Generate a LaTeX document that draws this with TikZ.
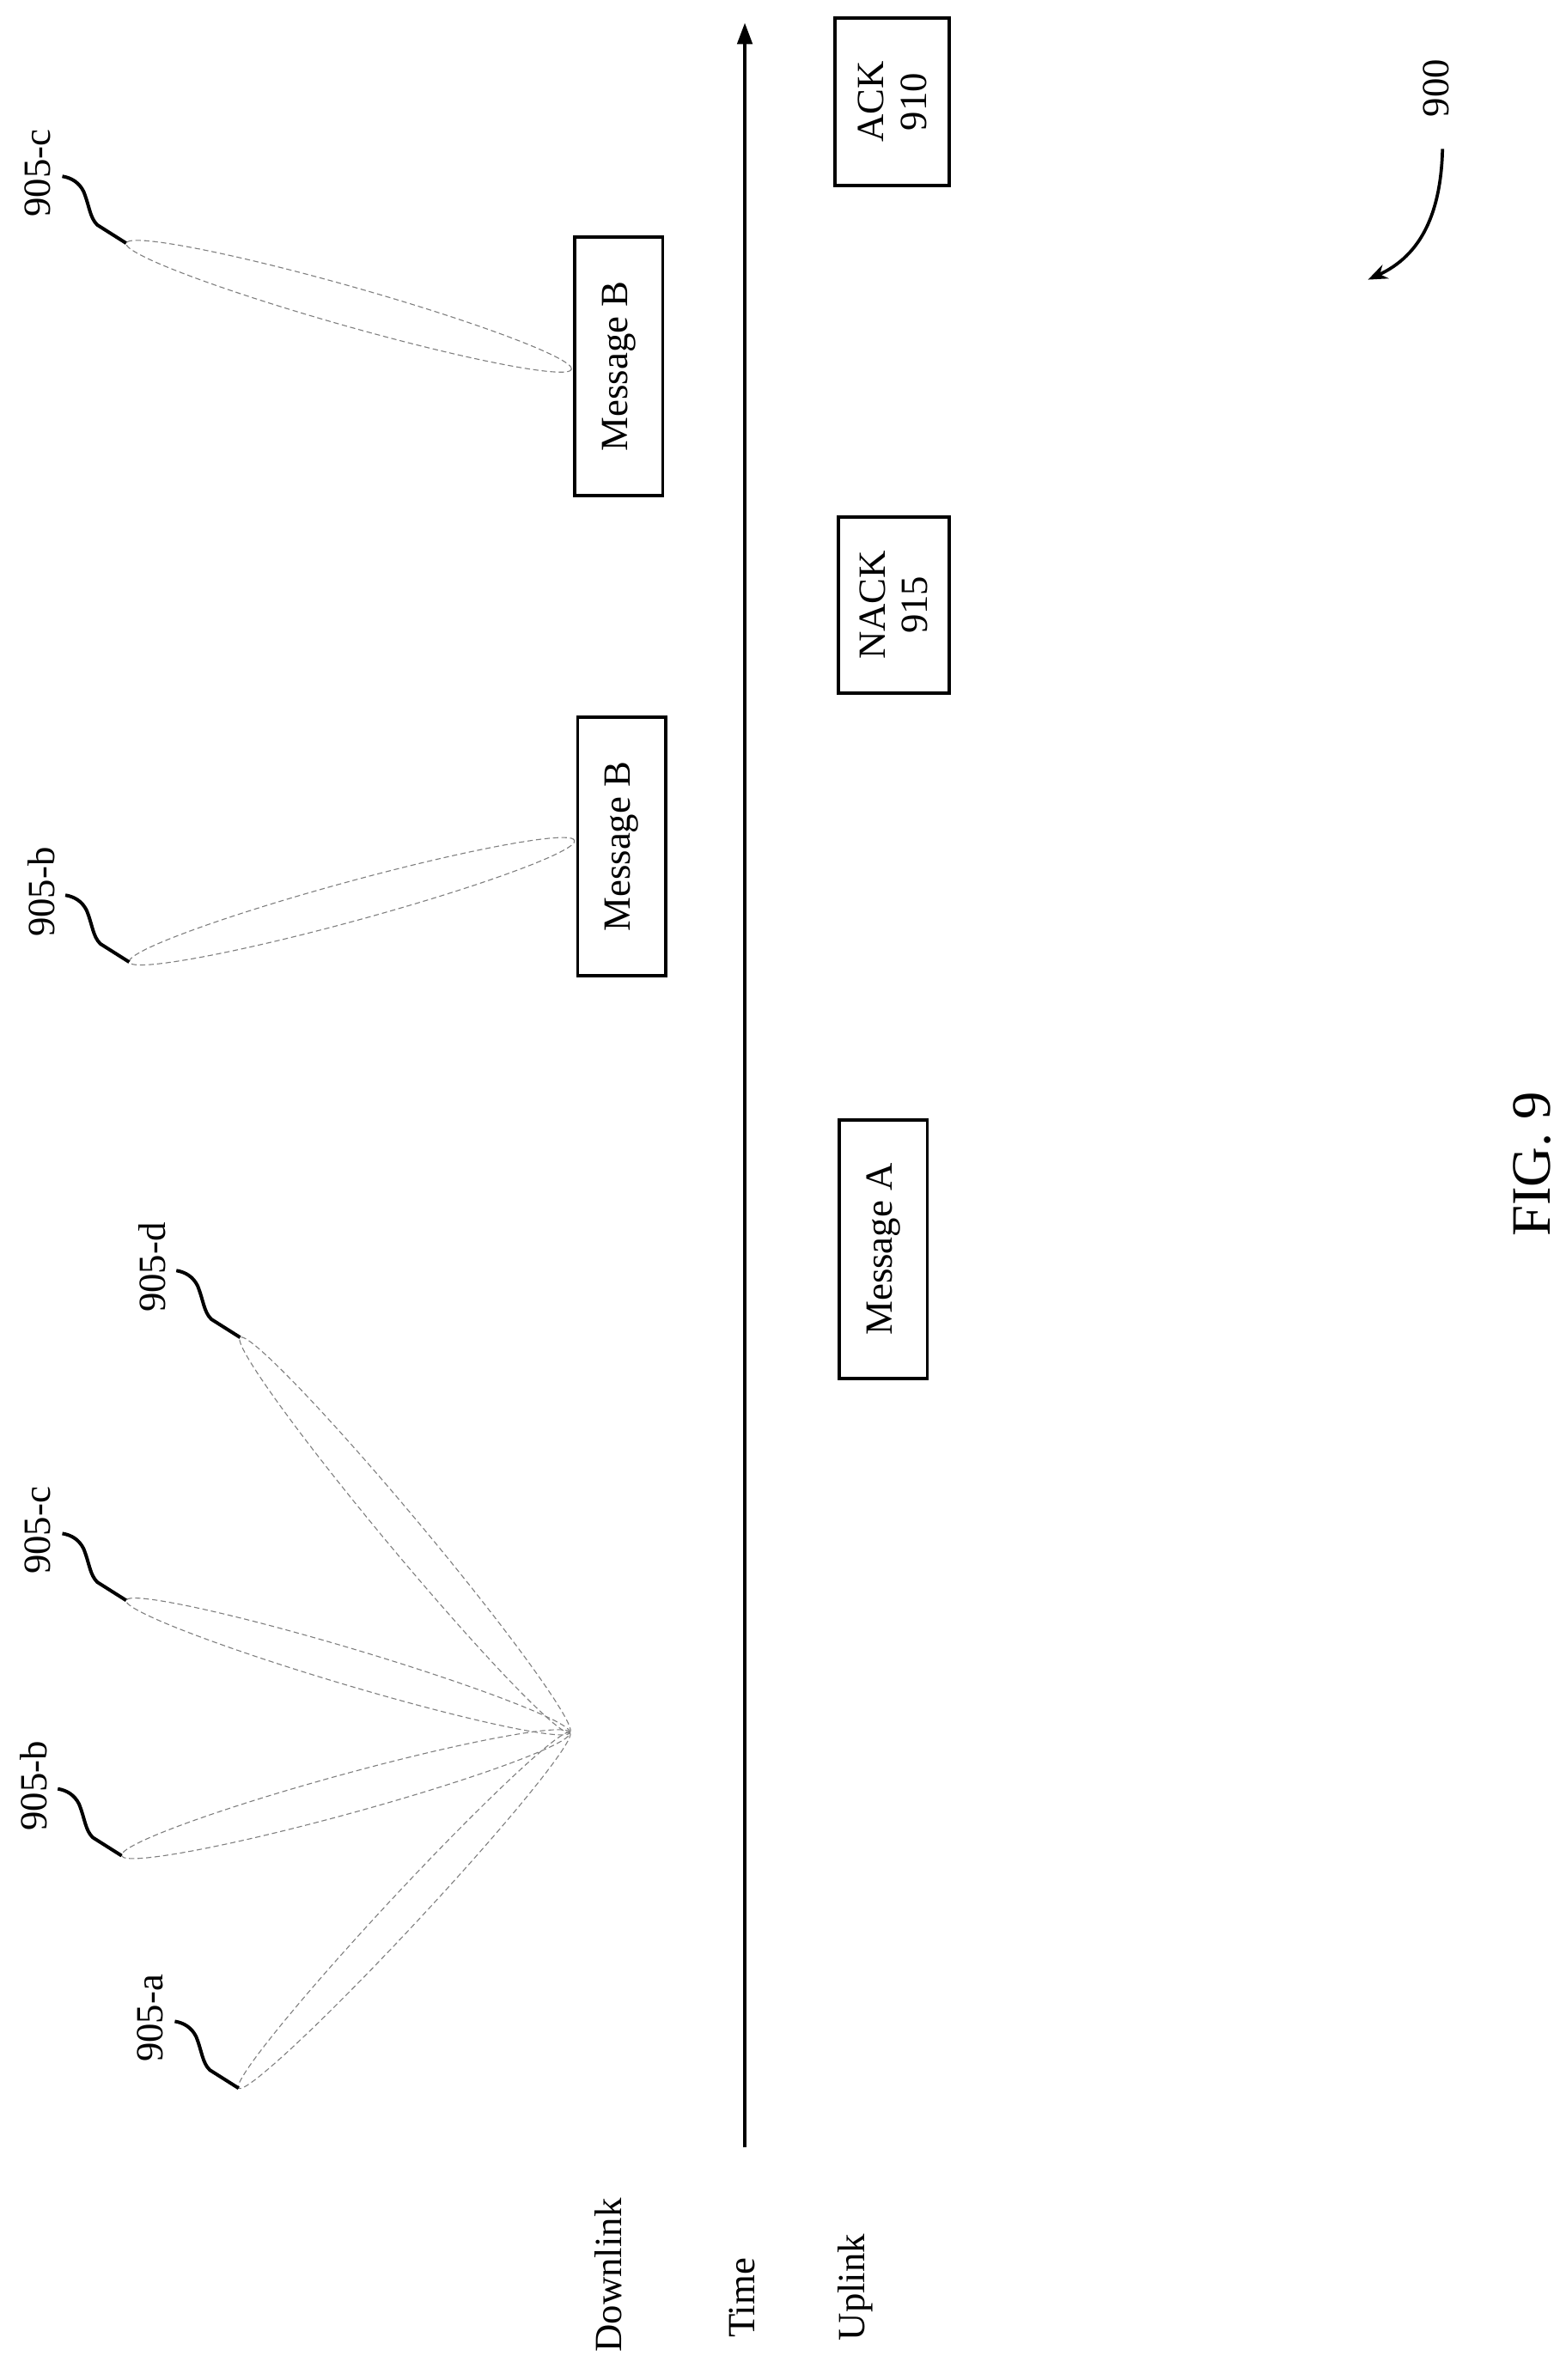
\documentclass[tikz,border=0pt]{standalone}
\usepackage{fontspec}
\setmainfont{Liberation Serif}
\usetikzlibrary{calc,arrows.meta}
\begin{document}
\begin{tikzpicture}[x=0.05cm,y=-0.05cm,
  txt/.style={font=\fontsize{36}{40}\selectfont,rotate=90,inner sep=0pt},
  box/.style={draw,line width=3pt,rotate=90,font=\fontsize{36}{40}\selectfont,align=center,inner sep=0pt},
  beam/.style={draw=gray,line width=0.9pt,dash pattern=on 5pt off 3pt},
  squig/.style={line width=3.2pt}]
\useasboundingbox (0,0) rectangle (1030,1566);
\newcommand{\beamline}[3]{%
  \path[beam] let \p1=($(#2)-(#1)$), \n1={atan2(\y1,\x1)}, \n2={veclen(\x1,\y1)/2} in
   ($(#1)!0.5!(#2)$) ellipse [rotate=\n1, x radius={\n2*1pt}, y radius={#3*1.42264pt}];}
\newcommand{\squiggle}[1]{%
  \draw[squig] (#1) -- ++(-19,-12) .. controls +(-5,-5) and +(4,10) .. ++(-9,-22) .. controls +(-3,-6) and +(6,1) .. ++(-14,-10);}
% axis
\coordinate (ax0) at (490,1413);
\coordinate (ax1) at (490,15);
\draw[line width=3pt,-{Triangle[length=20pt,width=14pt]}] (ax0) -- (ax1);
\node[txt] (dl) at (400,1497) {Downlink};
\node[txt] (tm) at (488,1512) {Time};
\node[txt] (ul) at (563,1505) {Uplink};
% boxes
\node[box,minimum width=8.5cm,minimum height=2.9cm] (mb1) at (407,241) {Message B};
\node[box,minimum width=8.5cm,minimum height=2.9cm] (mb2) at (409,557) {Message B};
\node[box,minimum width=8.5cm,minimum height=2.9cm] (ma) at (581,822) {Message A};
\node[box,minimum width=5.8cm,minimum height=3.65cm] (nack) at (588,398) {NACK\\915};
\node[box,minimum width=5.5cm,minimum height=3.75cm] (ack) at (587,67) {ACK\\910};
% beams
\coordinate (apex) at (375,1140);
\coordinate (ea) at (157,1374);
\coordinate (eb) at (80,1221);
\coordinate (ec) at (83,1053);
\coordinate (ed) at (158,880);
\beamline{ea}{apex}{11}
\beamline{eb}{apex}{13}
\beamline{ec}{apex}{12}
\beamline{ed}{apex}{12}
\coordinate (ub) at (85,633);
\coordinate (ubt) at (378,553);
\coordinate (uc) at (83,160);
\coordinate (uct) at (376,243);
\beamline{ub}{ubt}{13}
\beamline{uc}{uct}{13}
% squiggles and labels
\squiggle{ea} \node[txt] (la) at ($(ea)+(-58,-46)$) {905-a};
\squiggle{eb} \node[txt] (lb) at ($(eb)+(-58,-46)$) {905-b};
\squiggle{ec} \node[txt] (lc) at ($(ec)+(-58,-46)$) {905-c};
\squiggle{ed} \node[txt] (ld) at ($(ed)+(-58,-46)$) {905-d};
\squiggle{ub} \node[txt] (lub) at ($(ub)+(-58,-46)$) {905-b};
\squiggle{uc} \node[txt] (luc) at ($(uc)+(-58,-46)$) {905-c};
% 900
\node[txt] (n900) at (945,58) {900};
\coordinate (a900) at (949,98);
\coordinate (b900) at (900,184);
\draw[line width=3pt,-{Stealth[length=18pt,width=14pt]}] (a900) .. controls (948,140) and (935,168) .. (b900);
\node[rotate=90,inner sep=0pt,font=\fontsize{52}{56}\selectfont] (fig) at (1008,766) {FIG. 9};
\end{tikzpicture}
\end{document}
